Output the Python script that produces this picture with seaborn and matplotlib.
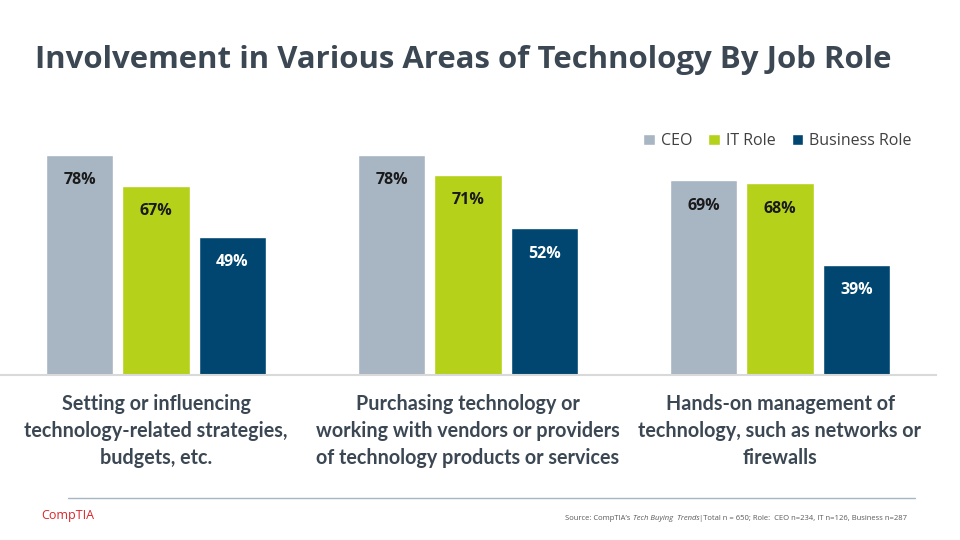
import pandas as pd
import matplotlib.pyplot as plt
import seaborn as sns
from matplotlib.patches import Patch

# chart values
categories = ["Setting or influencing\ntechnology-related strategies,\nbudgets, etc.",
              "Purchasing technology or\nworking with vendors or providers\nof technology products or services",
              "Hands-on management of\ntechnology, such as networks or\nfirewalls"]
roles = ["CEO", "IT Role", "Business Role"]
ceo = [78, 78, 69]
it_role = [67, 71, 68]
business = [49, 52, 39]

colors = ["#A8B5C3", "#B5D11A", "#004670"]
text_col = "#3B4753"

df = pd.DataFrame({"Category": categories * 3,
                   "Role": [r for r in roles for _ in categories],
                   "Value": ceo + it_role + business})

sns.set_theme(style="white")
plt.rcParams['font.family'] = ['Open Sans', 'DejaVu Sans']

fig = plt.figure(figsize=(9.6, 5.4), dpi=100)
ax = fig.add_axes([0.0, 0.3056, 0.975, 0.5222])

sns.barplot(data=df, x="Category", y="Value", hue="Role", palette=colors,
            width=0.735, gap=0.12, saturation=1, ax=ax, legend=False)

ax.set_xlim(-0.5, 2.5)
ax.set_ylim(0, 100)
ax.set_xlabel("")
ax.set_ylabel("")
ax.set_yticks([])
ax.set_xticks([])
for s in ["top", "right", "left"]:
    ax.spines[s].set_visible(False)
ax.spines["bottom"].set_color("#D9D9D9")
ax.spines["bottom"].set_linewidth(1.5)

# value labels inside bars
for cont, lab_col in zip(ax.containers, ["#1A1A1A", "#1A1A1A", "white"]):
    for bar in cont:
        h = bar.get_height()
        ax.text(bar.get_x() + bar.get_width() / 2, h - 9, f"{h:.0f}%",
                ha="center", va="center", fontsize=11.5, fontweight="bold",
                color=lab_col)

# category labels under the axis
for i, cat in enumerate(categories):
    ax.text(i, -6.8, cat, ha="center", va="top", fontsize=14.2,
            fontweight="bold", color=text_col, linespacing=1.42,
            family=["Lato", "DejaVu Sans"],
            transform=ax.transData, clip_on=False)

# legend
handles = [Patch(facecolor=c, label=r) for c, r in zip(colors, roles)]
fig.legend(handles=handles, loc="center", bbox_to_anchor=(0.81, 0.738),
           ncol=3, frameon=False, fontsize=11.5, handlelength=0.7,
           handleheight=0.7, handletextpad=0.4, columnspacing=1.0,
           labelcolor="#404040")

# title
fig.text(0.036, 0.888, "Involvement in Various Areas of Technology By Job Role",
         fontsize=22.4, fontweight="bold", color=text_col, ha="left", va="center")

# footer
fig.add_artist(plt.Line2D([0.071, 0.953], [0.078, 0.078], color="#A8B5C3",
                          linewidth=1))
fig.text(0.043, 0.046, "CompTIA", fontsize=9, color="#D9252A",
         ha="left", va="center")

# source line in three pieces (plain / italic / plain)
r = fig.canvas.get_renderer()
x_right = 0.945
src_parts = [("|Total n = 650; Role:  CEO n=234, IT n=126, Business n=287", "normal"),
             ("Tech Buying  Trends", "italic"),
             ("Source: CompTIA\u2019s ", "normal")]
for txt, sty in src_parts:
    t = fig.text(x_right, 0.04, txt, fontsize=5.5, style=sty, color="#595959",
                 ha="right", va="center")
    bb = t.get_window_extent(renderer=r)
    x_right = bb.x0 / fig.bbox.width

plt.savefig("out.png", dpi=100)
